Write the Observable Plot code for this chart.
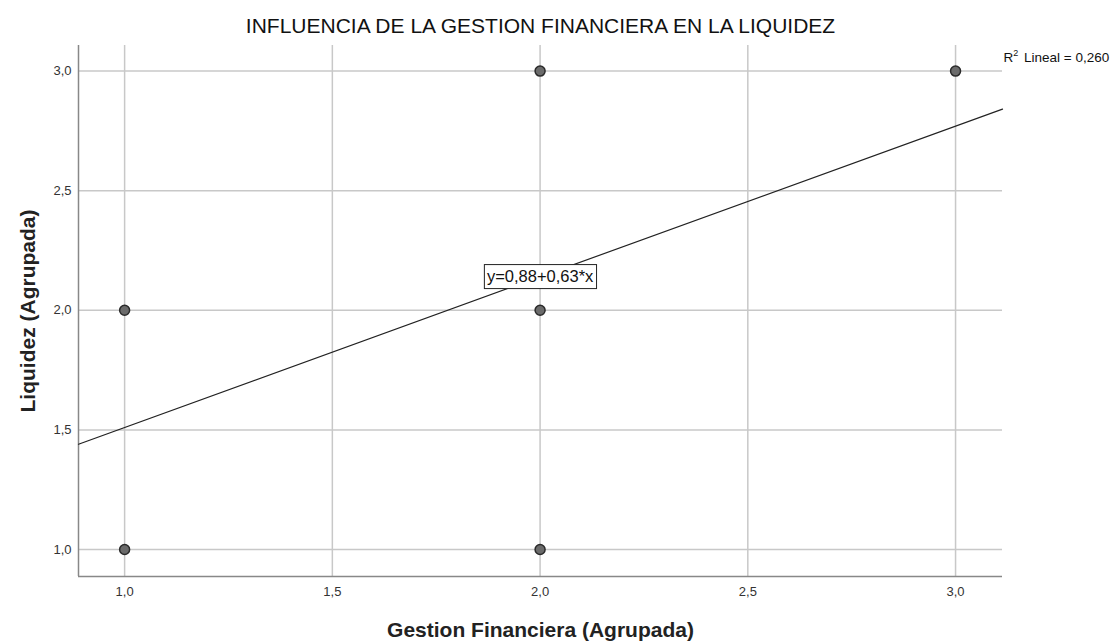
<!DOCTYPE html>
<html><head><meta charset="utf-8">
<script src="https://cdn.jsdelivr.net/npm/d3@7"></script>
<script src="https://cdn.jsdelivr.net/npm/@observablehq/plot@0.6"></script>
<style>
body{margin:0;background:#fff;}
#chart svg{font-family:"Liberation Sans",Arial,sans-serif;}
</style>
</head><body><div id="chart"></div>
<script>
const gestion = [1, 1, 2, 2, 2, 3];
const liquidez = [1, 2, 1, 2, 3, 3];
const xTicks = [1, 1.5, 2, 2.5, 3];
const yTicks = [1, 1.5, 2, 2.5, 3];
const intercept = 0.88;
const slope = 0.63;
const r2 = 0.260;
const title = "INFLUENCIA DE LA GESTION FINANCIERA EN LA LIQUIDEZ";
const xLabel = "Gestion Financiera (Agrupada)";
const yLabel = "Liquidez (Agrupada)";
const xDomain = [0.889, 3.113];
const yDomain = [0.887, 3.107];

const fmt = d => d.toFixed(1).replace(".", ",");
const fmt3 = d => d.toFixed(3).replace(".", ",");
const fmt2 = d => d.toFixed(2).replace(".", ",");

const points = gestion.map((g, i) => ({x: g, y: liquidez[i]}));
const fitLine = xDomain.map(x => ({x, y: intercept + slope * x}));
const eqText = `y=${fmt2(intercept)}+${fmt2(slope)}*x`;
const eqX = 2.0;
const eqY = 2.14;

const plot = Plot.plot({
  width: 1114,
  height: 643,
  marginLeft: 78,
  marginRight: 112,
  marginTop: 45,
  marginBottom: 67,
  style: {background: "#fff", fontFamily: "'Liberation Sans', Arial, sans-serif"},
  x: {domain: xDomain, ticks: xTicks, tickFormat: fmt},
  y: {domain: yDomain, ticks: yTicks, tickFormat: fmt},
  marks: [
    Plot.gridX(xTicks, {stroke: "#c8c8c8", strokeOpacity: 1, strokeWidth: 1.5}),
    Plot.gridY(yTicks, {stroke: "#c8c8c8", strokeOpacity: 1, strokeWidth: 1.5}),
    Plot.axisX(xTicks, {tickSize: 0, tickPadding: 10, tickFormat: fmt, label: null, fontSize: 13, fill: "#333"}),
    Plot.axisY(yTicks, {tickSize: 0, tickPadding: 7, tickFormat: fmt, label: null, fontSize: 13, fill: "#333"}),
    Plot.ruleX([xDomain[0]], {stroke: "#888", strokeWidth: 1.5}),
    Plot.ruleY([yDomain[0]], {stroke: "#888", strokeWidth: 1.5}),
    Plot.line(fitLine, {x: "x", y: "y", stroke: "#222", strokeWidth: 1.2}),
    Plot.dot(points, {x: "x", y: "y", r: 5, fill: "#6b6b6b", stroke: "#2a2a2a", strokeWidth: 1.5}),
    Plot.text([eqText], {x: () => eqX, y: () => eqY, text: d => d, fontSize: 16.5, fill: "#111", className: "eqlabel"}),
    Plot.text([`R2 Lineal = ${fmt3(r2)}`], {frameAnchor: "top-right", text: d => d, textAnchor: "start", lineAnchor: "middle", dx: 1, dy: 12, fontSize: 13.5, fill: "#111", className: "r2label"}),
    Plot.text([title], {frameAnchor: "top", text: d => d, lineAnchor: "middle", dy: -19, fontSize: 21, fill: "#111"}),
    Plot.text([xLabel], {frameAnchor: "bottom", text: d => d, lineAnchor: "middle", dy: 54, fontSize: 21, fontWeight: "bold", fill: "#222"}),
    Plot.text([yLabel], {frameAnchor: "left", text: d => d, textAnchor: "middle", lineAnchor: "middle", dx: -50, rotate: -90, fontSize: 21, fontWeight: "bold", fill: "#222"})
  ]
});
document.getElementById("chart").appendChild(plot);

// white box with border behind the equation label
const t = plot.querySelector("g.eqlabel text");
if (t) {
  const b = t.getBBox();
  const rect = document.createElementNS("http://www.w3.org/2000/svg", "rect");
  rect.setAttribute("x", b.x - 2.5);
  rect.setAttribute("y", b.y - 2.5);
  rect.setAttribute("width", b.width + 5);
  rect.setAttribute("height", b.height + 6);
  rect.setAttribute("fill", "#fff");
  rect.setAttribute("stroke", "#222");
  rect.setAttribute("stroke-width", 1);
  const tr = t.getAttribute("transform");
  if (tr) rect.setAttribute("transform", tr);
  t.parentNode.insertBefore(rect, t);
}

// superscript 2 in the R² label
const r = plot.querySelector("g.r2label text");
if (r) {
  const full = r.textContent;
  r.textContent = "";
  const ns = "http://www.w3.org/2000/svg";
  const a = document.createElementNS(ns, "tspan"); a.textContent = full.slice(0, 1);
  const s = document.createElementNS(ns, "tspan"); s.textContent = full.slice(1, 2);
  s.setAttribute("font-size", "9"); s.setAttribute("dy", "-6");
  const c = document.createElementNS(ns, "tspan"); c.textContent = full.slice(2);
  c.setAttribute("dy", "6"); c.setAttribute("dx", "2");
  r.appendChild(a); r.appendChild(s); r.appendChild(c);
}
</script>
</body></html>
